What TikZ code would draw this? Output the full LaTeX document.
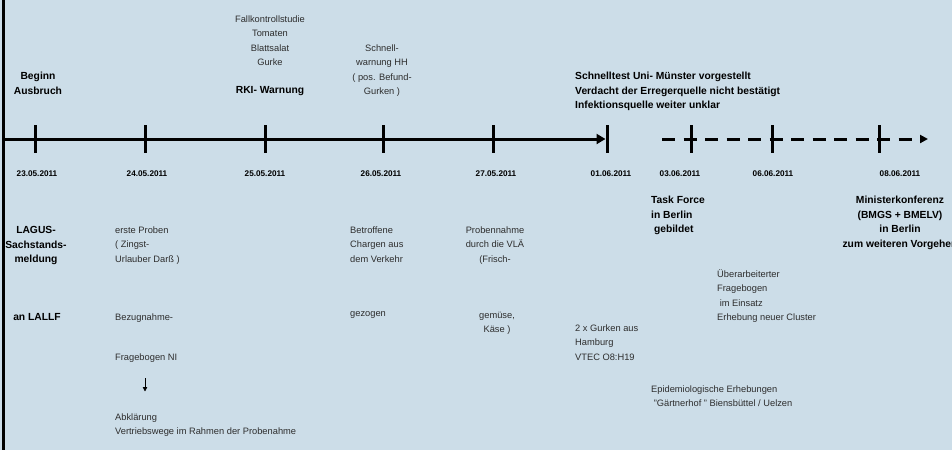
\documentclass[tikz,border=0pt]{standalone}
\usepackage{fontspec}
\setmainfont{Liberation Sans}
\usetikzlibrary{arrows.meta}
\definecolor{hintergrund}{RGB}{204,221,232}
\definecolor{schrift}{RGB}{45,45,45}
\tikzset{
  normal/.style={inner sep=0pt, text=schrift, font=\fontsize{9.3}{14.3}\selectfont},
  fett/.style={inner sep=0pt, font=\bfseries\fontsize{10.3}{14.5}\selectfont},
  datum/.style={inner sep=0pt, font=\bfseries\fontsize{8.2}{10}\selectfont},
  balken/.style={line width=3pt},
}
\begin{document}
\begin{tikzpicture}[x=1pt, y=-1pt]
      \fill[hintergrund] (0,0) rectangle (952,450);
      \clip (0,0) rectangle (952,450);
      \draw[balken] (3,0) -- (3,450);

      \coordinate (start) at (3,139);
      \coordinate (dstart) at (662,139);
      \coordinate (dende) at (928,139);
      \foreach \x/\n in {35/a,145/b,265/c,383/d,493/e,607/f,691/g,772/h,879/i}
        \coordinate (t\n) at (\x,139);

      \draw[balken, shorten >=1.5pt, -{Triangle[length=9pt,width=10pt]}] (start) -- (tf);
      \draw[balken, dash pattern=on 13pt off 8.5pt, -{Triangle[length=8pt,width=8pt]}] (dstart) -- (dende);
      \foreach \n in {a,b,c,d,e,f,g,h,i}
        \draw[balken] (t\n) ++(0,-14) -- ++(0,28);

      \node[datum] (d1) at (37,174) {23.05.2011};
      \node[datum] (d2) at (147,174) {24.05.2011};
      \node[datum] (d3) at (265,174) {25.05.2011};
      \node[datum] (d4) at (381,174) {26.05.2011};
      \node[datum] (d5) at (496,174) {27.05.2011};
      \node[datum] (d6) at (611,174) {01.06.2011};
      \node[datum] (d7) at (680,174) {03.06.2011};
      \node[datum] (d8) at (773,174) {06.06.2011};
      \node[datum] (d9) at (900,174) {08.06.2011};

      \node[fett, align=center, anchor=north] (beginn) at (38,72.2) {Beginn\\Ausbruch};
      \node[normal, align=center, anchor=north] (fall) at (270,15.5) {Fallkontrollstudie\\Tomaten\\Blattsalat\\Gurke};
      \node[fett, anchor=north] (rki) at (270,86.2) {RKI- Warnung};
      \node[normal, align=center, anchor=north] (schnell) at (382,44.5) {Schnell-\\warnung HH\\( pos. Befund-\\Gurken )};
      \node[fett, align=left, anchor=north west] (test) at (575,72.2) {Schnelltest Uni- Münster vorgestellt\\Verdacht der Erregerquelle nicht bestätigt\\Infektionsquelle weiter unklar};

      \node[fett, align=center, anchor=north] (lagus) at (36,226.2) {LAGUS-\\Sachstands-\\meldung};
      \node[fett, anchor=north] (lallf) at (37,313.2) {an LALLF};

      \node[normal, align=left, anchor=north west] (erste) at (115,226.5) {erste Proben\\( Zingst-\\Urlauber Darß )};
      \node[normal, anchor=north west] (bezug) at (115,313.5) {Bezugnahme-};
      \node[normal, anchor=north west] (frage) at (115,353.5) {Fragebogen NI};
      \node[normal, align=left, anchor=north west] (abkl) at (115,413.5) {Abklärung\\Vertriebswege im Rahmen der Probenahme};
      \coordinate (px) at (145,0);
      \draw[line width=0.8pt, shorten <=15.5pt, shorten >=22pt, -{Triangle[length=4.5pt,width=4.5pt]}] (frage.south -| px) -- (abkl.north -| px);

      \node[normal, align=left, anchor=north west] (betr) at (350,226.5) {Betroffene\\Chargen aus\\dem Verkehr};
      \node[normal, anchor=north west] (gezogen) at (350,311.5) {gezogen};
      \node[normal, align=center, anchor=north] (probe) at (495,226.5) {Probennahme\\durch die VLÄ\\(Frisch-};
      \node[normal, align=center, anchor=north] (gemuese) at (497,311.5) {gemüse,\\ Käse )};
      \node[normal, align=left, anchor=north west] (gurken) at (575,324.5) {2 x Gurken aus\\Hamburg\\VTEC O8:H19};

      \node[fett, align=left, anchor=north west] (task) at (651,196.2) {Task Force\\in Berlin\\\ gebildet};
      \node[fett, align=center, anchor=north] (minister) at (900,196.2) {Ministerkonferenz\\(BMGS + BMELV)\\in Berlin\\zum weiteren Vorgehen};
      \node[normal, align=left, anchor=north west] (ueber) at (717,269.5) {Überarbeiterter\\Fragebogen\\\ im Einsatz\\Erhebung neuer Cluster};
      \node[normal, align=left, anchor=north west] (epi) at (651,385.5) {Epidemiologische Erhebungen\\\ "Gärtnerhof " Biensbüttel / Uelzen};
    \end{tikzpicture}
\end{document}
